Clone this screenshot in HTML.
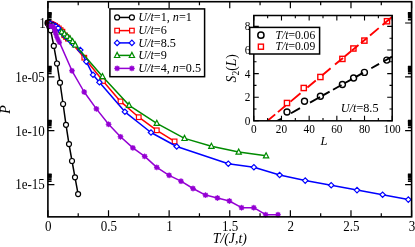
<!DOCTYPE html>
<html><head><meta charset="utf-8"><title>chart</title>
<style>html,body{margin:0;padding:0;background:#fff;}body{width:415px;height:247px;overflow:hidden;font-family:"Liberation Serif",serif;}</style>
</head><body>
<svg width="415" height="247" viewBox="0 0 415 247" style="display:block;will-change:transform">
<rect x="0" y="0" width="415" height="247" fill="#fff"/>
<defs><clipPath id="cm"><rect x="47.9" y="1.7" width="363.70000000000005" height="215.15"/></clipPath></defs>
<g>
<polyline points="47.90,23.00 48.30,23.20 48.70,23.90 49.10,25.20 49.50,27.00 50.70,30.30 53.80,45.90 57.00,63.50 60.00,82.70 63.10,104.00 66.00,124.80 69.00,144.10 72.00,161.00 75.00,177.30 78.10,194.10" fill="none" stroke="#000" stroke-width="1.5" stroke-linejoin="round"/>
<circle cx="47.90" cy="23.00" r="2.5" fill="#fff" stroke="#000" stroke-width="1.9"/>
<circle cx="48.30" cy="23.20" r="2.5" fill="#fff" stroke="#000" stroke-width="1.9"/>
<circle cx="48.70" cy="23.90" r="2.5" fill="#fff" stroke="#000" stroke-width="1.2"/>
<circle cx="49.10" cy="25.20" r="2.5" fill="#fff" stroke="#000" stroke-width="1.2"/>
<circle cx="49.50" cy="27.00" r="2.5" fill="#fff" stroke="#000" stroke-width="1.2"/>
<circle cx="50.70" cy="30.30" r="2.5" fill="#fff" stroke="#000" stroke-width="1.2"/>
<circle cx="53.80" cy="45.90" r="2.5" fill="#fff" stroke="#000" stroke-width="1.2"/>
<circle cx="57.00" cy="63.50" r="2.5" fill="#fff" stroke="#000" stroke-width="1.2"/>
<circle cx="60.00" cy="82.70" r="2.5" fill="#fff" stroke="#000" stroke-width="1.2"/>
<circle cx="63.10" cy="104.00" r="2.5" fill="#fff" stroke="#000" stroke-width="1.2"/>
<circle cx="66.00" cy="124.80" r="2.5" fill="#fff" stroke="#000" stroke-width="1.2"/>
<circle cx="69.00" cy="144.10" r="2.5" fill="#fff" stroke="#000" stroke-width="1.2"/>
<circle cx="72.00" cy="161.00" r="2.5" fill="#fff" stroke="#000" stroke-width="1.2"/>
<circle cx="75.00" cy="177.30" r="2.5" fill="#fff" stroke="#000" stroke-width="1.2"/>
<circle cx="78.10" cy="194.10" r="2.5" fill="#fff" stroke="#000" stroke-width="1.2"/>
<polyline points="49.72,23.46 51.54,23.97 53.35,24.88 55.17,25.79 56.99,27.19 58.81,28.43 60.63,30.13 62.44,31.70 64.26,35.26 66.08,37.01 67.90,38.61 84.30,57.70 103.00,81.00 120.50,101.40 138.75,117.20 156.80,130.30 174.60,141.40" fill="none" stroke="#ff0000" stroke-width="1.5" stroke-linejoin="round"/>
<rect x="47.42" y="21.16" width="4.6" height="4.6" fill="#fff" stroke="#ff0000" stroke-width="1.2"/>
<rect x="49.24" y="21.67" width="4.6" height="4.6" fill="#fff" stroke="#ff0000" stroke-width="1.2"/>
<rect x="51.05" y="22.58" width="4.6" height="4.6" fill="#fff" stroke="#ff0000" stroke-width="1.2"/>
<rect x="52.87" y="23.49" width="4.6" height="4.6" fill="#fff" stroke="#ff0000" stroke-width="1.2"/>
<rect x="54.69" y="24.89" width="4.6" height="4.6" fill="#fff" stroke="#ff0000" stroke-width="1.2"/>
<rect x="56.51" y="26.13" width="4.6" height="4.6" fill="#fff" stroke="#ff0000" stroke-width="1.2"/>
<rect x="58.33" y="27.83" width="4.6" height="4.6" fill="#fff" stroke="#ff0000" stroke-width="1.2"/>
<rect x="60.14" y="29.40" width="4.6" height="4.6" fill="#fff" stroke="#ff0000" stroke-width="1.2"/>
<rect x="61.96" y="32.96" width="4.6" height="4.6" fill="#fff" stroke="#ff0000" stroke-width="1.2"/>
<rect x="63.78" y="34.71" width="4.6" height="4.6" fill="#fff" stroke="#ff0000" stroke-width="1.2"/>
<rect x="65.60" y="36.31" width="4.6" height="4.6" fill="#fff" stroke="#ff0000" stroke-width="1.2"/>
<rect x="82.00" y="55.40" width="4.6" height="4.6" fill="#fff" stroke="#ff0000" stroke-width="1.2"/>
<rect x="100.70" y="78.70" width="4.6" height="4.6" fill="#fff" stroke="#ff0000" stroke-width="1.2"/>
<rect x="118.20" y="99.10" width="4.6" height="4.6" fill="#fff" stroke="#ff0000" stroke-width="1.2"/>
<rect x="136.45" y="114.90" width="4.6" height="4.6" fill="#fff" stroke="#ff0000" stroke-width="1.2"/>
<rect x="154.50" y="128.00" width="4.6" height="4.6" fill="#fff" stroke="#ff0000" stroke-width="1.2"/>
<rect x="172.30" y="139.10" width="4.6" height="4.6" fill="#fff" stroke="#ff0000" stroke-width="1.2"/>
<polyline points="50.48,23.64 53.05,24.73 55.63,26.13 58.20,28.02 60.78,31.58 63.35,33.98 65.93,36.66 68.50,38.91 71.08,41.38 73.66,44.44 80.30,50.00 86.30,61.60 93.00,74.80 99.40,82.30 124.90,111.80 151.00,132.50 176.70,146.50 228.30,163.70 253.90,167.20 279.60,175.00 305.20,180.60 331.20,185.20 357.00,190.10 382.60,194.70 408.30,199.60" fill="none" stroke="#0000ff" stroke-width="1.5" stroke-linejoin="round"/>
<path d="M47.78,23.64 L50.48,20.94 L53.18,23.64 L50.48,26.34 Z" fill="#fff" stroke="#0000ff" stroke-width="1.2"/>
<path d="M50.35,24.73 L53.05,22.03 L55.75,24.73 L53.05,27.43 Z" fill="#fff" stroke="#0000ff" stroke-width="1.2"/>
<path d="M52.93,26.13 L55.63,23.43 L58.33,26.13 L55.63,28.83 Z" fill="#fff" stroke="#0000ff" stroke-width="1.2"/>
<path d="M55.50,28.02 L58.20,25.32 L60.90,28.02 L58.20,30.72 Z" fill="#fff" stroke="#0000ff" stroke-width="1.2"/>
<path d="M58.08,31.58 L60.78,28.88 L63.48,31.58 L60.78,34.28 Z" fill="#fff" stroke="#0000ff" stroke-width="1.2"/>
<path d="M60.65,33.98 L63.35,31.28 L66.05,33.98 L63.35,36.68 Z" fill="#fff" stroke="#0000ff" stroke-width="1.2"/>
<path d="M63.23,36.66 L65.93,33.96 L68.63,36.66 L65.93,39.36 Z" fill="#fff" stroke="#0000ff" stroke-width="1.2"/>
<path d="M65.80,38.91 L68.50,36.21 L71.20,38.91 L68.50,41.61 Z" fill="#fff" stroke="#0000ff" stroke-width="1.2"/>
<path d="M68.38,41.38 L71.08,38.68 L73.78,41.38 L71.08,44.08 Z" fill="#fff" stroke="#0000ff" stroke-width="1.2"/>
<path d="M70.95,44.44 L73.66,41.74 L76.36,44.44 L73.66,47.14 Z" fill="#fff" stroke="#0000ff" stroke-width="1.2"/>
<path d="M77.60,50.00 L80.30,47.30 L83.00,50.00 L80.30,52.70 Z" fill="#fff" stroke="#0000ff" stroke-width="1.2"/>
<path d="M83.60,61.60 L86.30,58.90 L89.00,61.60 L86.30,64.30 Z" fill="#fff" stroke="#0000ff" stroke-width="1.2"/>
<path d="M90.30,74.80 L93.00,72.10 L95.70,74.80 L93.00,77.50 Z" fill="#fff" stroke="#0000ff" stroke-width="1.2"/>
<path d="M96.70,82.30 L99.40,79.60 L102.10,82.30 L99.40,85.00 Z" fill="#fff" stroke="#0000ff" stroke-width="1.2"/>
<path d="M122.20,111.80 L124.90,109.10 L127.60,111.80 L124.90,114.50 Z" fill="#fff" stroke="#0000ff" stroke-width="1.2"/>
<path d="M148.30,132.50 L151.00,129.80 L153.70,132.50 L151.00,135.20 Z" fill="#fff" stroke="#0000ff" stroke-width="1.2"/>
<path d="M174.00,146.50 L176.70,143.80 L179.40,146.50 L176.70,149.20 Z" fill="#fff" stroke="#0000ff" stroke-width="1.2"/>
<path d="M225.60,163.70 L228.30,161.00 L231.00,163.70 L228.30,166.40 Z" fill="#fff" stroke="#0000ff" stroke-width="1.2"/>
<path d="M251.20,167.20 L253.90,164.50 L256.60,167.20 L253.90,169.90 Z" fill="#fff" stroke="#0000ff" stroke-width="1.2"/>
<path d="M276.90,175.00 L279.60,172.30 L282.30,175.00 L279.60,177.70 Z" fill="#fff" stroke="#0000ff" stroke-width="1.2"/>
<path d="M302.50,180.60 L305.20,177.90 L307.90,180.60 L305.20,183.30 Z" fill="#fff" stroke="#0000ff" stroke-width="1.2"/>
<path d="M328.50,185.20 L331.20,182.50 L333.90,185.20 L331.20,187.90 Z" fill="#fff" stroke="#0000ff" stroke-width="1.2"/>
<path d="M354.30,190.10 L357.00,187.40 L359.70,190.10 L357.00,192.80 Z" fill="#fff" stroke="#0000ff" stroke-width="1.2"/>
<path d="M379.90,194.70 L382.60,192.00 L385.30,194.70 L382.60,197.40 Z" fill="#fff" stroke="#0000ff" stroke-width="1.2"/>
<path d="M405.60,199.60 L408.30,196.90 L411.00,199.60 L408.30,202.30 Z" fill="#fff" stroke="#0000ff" stroke-width="1.2"/>
<polyline points="61.70,31.80 64.40,33.80 67.10,36.20 69.90,38.60 72.60,41.50 75.20,44.90 102.50,76.50 129.10,105.30 156.80,123.30 184.50,138.40 211.40,146.20 238.70,152.00 266.10,155.80" fill="none" stroke="#008b00" stroke-width="1.5" stroke-linejoin="round"/>
<path d="M59.05,33.90 L61.70,28.80 L64.35,33.90 Z" fill="#fff" stroke="#008b00" stroke-width="1.2" stroke-linejoin="miter"/>
<path d="M61.75,35.90 L64.40,30.80 L67.05,35.90 Z" fill="#fff" stroke="#008b00" stroke-width="1.2" stroke-linejoin="miter"/>
<path d="M64.45,38.30 L67.10,33.20 L69.75,38.30 Z" fill="#fff" stroke="#008b00" stroke-width="1.2" stroke-linejoin="miter"/>
<path d="M67.25,40.70 L69.90,35.60 L72.55,40.70 Z" fill="#fff" stroke="#008b00" stroke-width="1.2" stroke-linejoin="miter"/>
<path d="M69.95,43.60 L72.60,38.50 L75.25,43.60 Z" fill="#fff" stroke="#008b00" stroke-width="1.2" stroke-linejoin="miter"/>
<path d="M72.55,47.00 L75.20,41.90 L77.85,47.00 Z" fill="#fff" stroke="#008b00" stroke-width="1.2" stroke-linejoin="miter"/>
<path d="M99.85,78.60 L102.50,73.50 L105.15,78.60 Z" fill="#fff" stroke="#008b00" stroke-width="1.2" stroke-linejoin="miter"/>
<path d="M126.45,107.40 L129.10,102.30 L131.75,107.40 Z" fill="#fff" stroke="#008b00" stroke-width="1.2" stroke-linejoin="miter"/>
<path d="M154.15,125.40 L156.80,120.30 L159.45,125.40 Z" fill="#fff" stroke="#008b00" stroke-width="1.2" stroke-linejoin="miter"/>
<path d="M181.85,140.50 L184.50,135.40 L187.15,140.50 Z" fill="#fff" stroke="#008b00" stroke-width="1.2" stroke-linejoin="miter"/>
<path d="M208.75,148.30 L211.40,143.20 L214.05,148.30 Z" fill="#fff" stroke="#008b00" stroke-width="1.2" stroke-linejoin="miter"/>
<path d="M236.05,154.10 L238.70,149.00 L241.35,154.10 Z" fill="#fff" stroke="#008b00" stroke-width="1.2" stroke-linejoin="miter"/>
<path d="M263.45,157.90 L266.10,152.80 L268.75,157.90 Z" fill="#fff" stroke="#008b00" stroke-width="1.2" stroke-linejoin="miter"/>
<polyline points="49.10,25.80 50.30,25.90 51.50,26.10 52.70,26.50 53.80,27.50 54.60,29.60 55.20,32.00 56.00,34.60 57.00,37.40 58.20,40.00 59.50,42.40 72.00,70.80 84.20,92.00 96.40,108.90 108.60,124.30 120.50,136.80 132.90,147.90 144.70,156.40 156.80,167.40 169.10,175.30 181.00,181.20 193.00,188.50 205.50,195.10 217.40,198.00 229.40,201.00 241.60,207.70 253.80,207.70 265.70,214.70 278.00,214.70" fill="none" stroke="#9400d3" stroke-width="1.5" stroke-linejoin="round"/>
<polygon points="51.70,25.80 50.83,26.52 50.94,27.64 49.82,27.53 49.10,28.40 48.38,27.53 47.26,27.64 47.37,26.52 46.50,25.80 47.37,25.08 47.26,23.96 48.38,24.07 49.10,23.20 49.82,24.07 50.94,23.96 50.83,25.08" fill="#9400d3" stroke="#9400d3" stroke-width="0.4"/>
<polygon points="52.90,25.90 52.03,26.62 52.14,27.74 51.02,27.63 50.30,28.50 49.58,27.63 48.46,27.74 48.57,26.62 47.70,25.90 48.57,25.18 48.46,24.06 49.58,24.17 50.30,23.30 51.02,24.17 52.14,24.06 52.03,25.18" fill="#9400d3" stroke="#9400d3" stroke-width="0.4"/>
<polygon points="54.10,26.10 53.23,26.82 53.34,27.94 52.22,27.83 51.50,28.70 50.78,27.83 49.66,27.94 49.77,26.82 48.90,26.10 49.77,25.38 49.66,24.26 50.78,24.37 51.50,23.50 52.22,24.37 53.34,24.26 53.23,25.38" fill="#9400d3" stroke="#9400d3" stroke-width="0.4"/>
<polygon points="55.30,26.50 54.43,27.22 54.54,28.34 53.42,28.23 52.70,29.10 51.98,28.23 50.86,28.34 50.97,27.22 50.10,26.50 50.97,25.78 50.86,24.66 51.98,24.77 52.70,23.90 53.42,24.77 54.54,24.66 54.43,25.78" fill="#9400d3" stroke="#9400d3" stroke-width="0.4"/>
<polygon points="56.40,27.50 55.53,28.22 55.64,29.34 54.52,29.23 53.80,30.10 53.08,29.23 51.96,29.34 52.07,28.22 51.20,27.50 52.07,26.78 51.96,25.66 53.08,25.77 53.80,24.90 54.52,25.77 55.64,25.66 55.53,26.78" fill="#9400d3" stroke="#9400d3" stroke-width="0.4"/>
<polygon points="57.20,29.60 56.33,30.32 56.44,31.44 55.32,31.33 54.60,32.20 53.88,31.33 52.76,31.44 52.87,30.32 52.00,29.60 52.87,28.88 52.76,27.76 53.88,27.87 54.60,27.00 55.32,27.87 56.44,27.76 56.33,28.88" fill="#9400d3" stroke="#9400d3" stroke-width="0.4"/>
<polygon points="57.80,32.00 56.93,32.72 57.04,33.84 55.92,33.73 55.20,34.60 54.48,33.73 53.36,33.84 53.47,32.72 52.60,32.00 53.47,31.28 53.36,30.16 54.48,30.27 55.20,29.40 55.92,30.27 57.04,30.16 56.93,31.28" fill="#9400d3" stroke="#9400d3" stroke-width="0.4"/>
<polygon points="58.60,34.60 57.73,35.32 57.84,36.44 56.72,36.33 56.00,37.20 55.28,36.33 54.16,36.44 54.27,35.32 53.40,34.60 54.27,33.88 54.16,32.76 55.28,32.87 56.00,32.00 56.72,32.87 57.84,32.76 57.73,33.88" fill="#9400d3" stroke="#9400d3" stroke-width="0.4"/>
<polygon points="59.60,37.40 58.73,38.12 58.84,39.24 57.72,39.13 57.00,40.00 56.28,39.13 55.16,39.24 55.27,38.12 54.40,37.40 55.27,36.68 55.16,35.56 56.28,35.67 57.00,34.80 57.72,35.67 58.84,35.56 58.73,36.68" fill="#9400d3" stroke="#9400d3" stroke-width="0.4"/>
<polygon points="60.80,40.00 59.93,40.72 60.04,41.84 58.92,41.73 58.20,42.60 57.48,41.73 56.36,41.84 56.47,40.72 55.60,40.00 56.47,39.28 56.36,38.16 57.48,38.27 58.20,37.40 58.92,38.27 60.04,38.16 59.93,39.28" fill="#9400d3" stroke="#9400d3" stroke-width="0.4"/>
<polygon points="62.10,42.40 61.23,43.12 61.34,44.24 60.22,44.13 59.50,45.00 58.78,44.13 57.66,44.24 57.77,43.12 56.90,42.40 57.77,41.68 57.66,40.56 58.78,40.67 59.50,39.80 60.22,40.67 61.34,40.56 61.23,41.68" fill="#9400d3" stroke="#9400d3" stroke-width="0.4"/>
<polygon points="74.90,70.80 73.93,71.60 74.05,72.85 72.80,72.73 72.00,73.70 71.20,72.73 69.95,72.85 70.07,71.60 69.10,70.80 70.07,70.00 69.95,68.75 71.20,68.87 72.00,67.90 72.80,68.87 74.05,68.75 73.93,70.00" fill="#9400d3" stroke="#9400d3" stroke-width="0.4"/>
<polygon points="87.10,92.00 86.13,92.80 86.25,94.05 85.00,93.93 84.20,94.90 83.40,93.93 82.15,94.05 82.27,92.80 81.30,92.00 82.27,91.20 82.15,89.95 83.40,90.07 84.20,89.10 85.00,90.07 86.25,89.95 86.13,91.20" fill="#9400d3" stroke="#9400d3" stroke-width="0.4"/>
<polygon points="99.30,108.90 98.33,109.70 98.45,110.95 97.20,110.83 96.40,111.80 95.60,110.83 94.35,110.95 94.47,109.70 93.50,108.90 94.47,108.10 94.35,106.85 95.60,106.97 96.40,106.00 97.20,106.97 98.45,106.85 98.33,108.10" fill="#9400d3" stroke="#9400d3" stroke-width="0.4"/>
<polygon points="111.50,124.30 110.53,125.10 110.65,126.35 109.40,126.23 108.60,127.20 107.80,126.23 106.55,126.35 106.67,125.10 105.70,124.30 106.67,123.50 106.55,122.25 107.80,122.37 108.60,121.40 109.40,122.37 110.65,122.25 110.53,123.50" fill="#9400d3" stroke="#9400d3" stroke-width="0.4"/>
<polygon points="123.40,136.80 122.43,137.60 122.55,138.85 121.30,138.73 120.50,139.70 119.70,138.73 118.45,138.85 118.57,137.60 117.60,136.80 118.57,136.00 118.45,134.75 119.70,134.87 120.50,133.90 121.30,134.87 122.55,134.75 122.43,136.00" fill="#9400d3" stroke="#9400d3" stroke-width="0.4"/>
<polygon points="135.80,147.90 134.83,148.70 134.95,149.95 133.70,149.83 132.90,150.80 132.10,149.83 130.85,149.95 130.97,148.70 130.00,147.90 130.97,147.10 130.85,145.85 132.10,145.97 132.90,145.00 133.70,145.97 134.95,145.85 134.83,147.10" fill="#9400d3" stroke="#9400d3" stroke-width="0.4"/>
<polygon points="147.60,156.40 146.63,157.20 146.75,158.45 145.50,158.33 144.70,159.30 143.90,158.33 142.65,158.45 142.77,157.20 141.80,156.40 142.77,155.60 142.65,154.35 143.90,154.47 144.70,153.50 145.50,154.47 146.75,154.35 146.63,155.60" fill="#9400d3" stroke="#9400d3" stroke-width="0.4"/>
<polygon points="159.70,167.40 158.73,168.20 158.85,169.45 157.60,169.33 156.80,170.30 156.00,169.33 154.75,169.45 154.87,168.20 153.90,167.40 154.87,166.60 154.75,165.35 156.00,165.47 156.80,164.50 157.60,165.47 158.85,165.35 158.73,166.60" fill="#9400d3" stroke="#9400d3" stroke-width="0.4"/>
<polygon points="172.00,175.30 171.03,176.10 171.15,177.35 169.90,177.23 169.10,178.20 168.30,177.23 167.05,177.35 167.17,176.10 166.20,175.30 167.17,174.50 167.05,173.25 168.30,173.37 169.10,172.40 169.90,173.37 171.15,173.25 171.03,174.50" fill="#9400d3" stroke="#9400d3" stroke-width="0.4"/>
<polygon points="183.90,181.20 182.93,182.00 183.05,183.25 181.80,183.13 181.00,184.10 180.20,183.13 178.95,183.25 179.07,182.00 178.10,181.20 179.07,180.40 178.95,179.15 180.20,179.27 181.00,178.30 181.80,179.27 183.05,179.15 182.93,180.40" fill="#9400d3" stroke="#9400d3" stroke-width="0.4"/>
<polygon points="195.90,188.50 194.93,189.30 195.05,190.55 193.80,190.43 193.00,191.40 192.20,190.43 190.95,190.55 191.07,189.30 190.10,188.50 191.07,187.70 190.95,186.45 192.20,186.57 193.00,185.60 193.80,186.57 195.05,186.45 194.93,187.70" fill="#9400d3" stroke="#9400d3" stroke-width="0.4"/>
<polygon points="208.40,195.10 207.43,195.90 207.55,197.15 206.30,197.03 205.50,198.00 204.70,197.03 203.45,197.15 203.57,195.90 202.60,195.10 203.57,194.30 203.45,193.05 204.70,193.17 205.50,192.20 206.30,193.17 207.55,193.05 207.43,194.30" fill="#9400d3" stroke="#9400d3" stroke-width="0.4"/>
<polygon points="220.30,198.00 219.33,198.80 219.45,200.05 218.20,199.93 217.40,200.90 216.60,199.93 215.35,200.05 215.47,198.80 214.50,198.00 215.47,197.20 215.35,195.95 216.60,196.07 217.40,195.10 218.20,196.07 219.45,195.95 219.33,197.20" fill="#9400d3" stroke="#9400d3" stroke-width="0.4"/>
<polygon points="232.30,201.00 231.33,201.80 231.45,203.05 230.20,202.93 229.40,203.90 228.60,202.93 227.35,203.05 227.47,201.80 226.50,201.00 227.47,200.20 227.35,198.95 228.60,199.07 229.40,198.10 230.20,199.07 231.45,198.95 231.33,200.20" fill="#9400d3" stroke="#9400d3" stroke-width="0.4"/>
<polygon points="244.50,207.70 243.53,208.50 243.65,209.75 242.40,209.63 241.60,210.60 240.80,209.63 239.55,209.75 239.67,208.50 238.70,207.70 239.67,206.90 239.55,205.65 240.80,205.77 241.60,204.80 242.40,205.77 243.65,205.65 243.53,206.90" fill="#9400d3" stroke="#9400d3" stroke-width="0.4"/>
<polygon points="256.70,207.70 255.73,208.50 255.85,209.75 254.60,209.63 253.80,210.60 253.00,209.63 251.75,209.75 251.87,208.50 250.90,207.70 251.87,206.90 251.75,205.65 253.00,205.77 253.80,204.80 254.60,205.77 255.85,205.65 255.73,206.90" fill="#9400d3" stroke="#9400d3" stroke-width="0.4"/>
<polygon points="268.60,214.70 267.63,215.50 267.75,216.75 266.50,216.63 265.70,217.60 264.90,216.63 263.65,216.75 263.77,215.50 262.80,214.70 263.77,213.90 263.65,212.65 264.90,212.77 265.70,211.80 266.50,212.77 267.75,212.65 267.63,213.90" fill="#9400d3" stroke="#9400d3" stroke-width="0.4"/>
<polygon points="280.90,214.70 279.93,215.50 280.05,216.75 278.80,216.63 278.00,217.60 277.20,216.63 275.95,216.75 276.07,215.50 275.10,214.70 276.07,213.90 275.95,212.65 277.20,212.77 278.00,211.80 278.80,212.77 280.05,212.65 279.93,213.90" fill="#9400d3" stroke="#9400d3" stroke-width="0.4"/>
</g>
<rect x="47.9" y="1.7" width="363.70000000000005" height="215.15" fill="none" stroke="#000" stroke-width="1.6"/>
<path d="M47.90,216.85 v-6.5 M47.90,1.7 v6.5" stroke="#000" stroke-width="1.2" fill="none"/>
<path d="M78.21,216.85 v-3.5 M78.21,1.7 v3.5" stroke="#000" stroke-width="1.2" fill="none"/>
<path d="M108.52,216.85 v-6.5 M108.52,1.7 v6.5" stroke="#000" stroke-width="1.2" fill="none"/>
<path d="M138.83,216.85 v-3.5 M138.83,1.7 v3.5" stroke="#000" stroke-width="1.2" fill="none"/>
<path d="M169.13,216.85 v-6.5 M169.13,1.7 v6.5" stroke="#000" stroke-width="1.2" fill="none"/>
<path d="M199.44,216.85 v-3.5 M199.44,1.7 v3.5" stroke="#000" stroke-width="1.2" fill="none"/>
<path d="M229.75,216.85 v-6.5 M229.75,1.7 v6.5" stroke="#000" stroke-width="1.2" fill="none"/>
<path d="M260.06,216.85 v-3.5 M260.06,1.7 v3.5" stroke="#000" stroke-width="1.2" fill="none"/>
<path d="M290.37,216.85 v-6.5 M290.37,1.7 v6.5" stroke="#000" stroke-width="1.2" fill="none"/>
<path d="M320.68,216.85 v-3.5 M320.68,1.7 v3.5" stroke="#000" stroke-width="1.2" fill="none"/>
<path d="M350.98,216.85 v-6.5 M350.98,1.7 v6.5" stroke="#000" stroke-width="1.2" fill="none"/>
<path d="M381.29,216.85 v-3.5 M381.29,1.7 v3.5" stroke="#000" stroke-width="1.2" fill="none"/>
<path d="M411.60,216.85 v-6.5 M411.60,1.7 v6.5" stroke="#000" stroke-width="1.2" fill="none"/>
<path d="M47.9,23.00 h6.5 M411.6,23.00 h-6.5" stroke="#000" stroke-width="1.2" fill="none"/>
<path d="M47.9,19.76  h3.7 M411.6,19.76 h-3.7" stroke="#000" stroke-width="1.5" fill="none"/>
<path d="M47.9,17.86  h3.7 M411.6,17.86 h-3.7" stroke="#000" stroke-width="1.5" fill="none"/>
<path d="M47.9,16.52  h3.7 M411.6,16.52 h-3.7" stroke="#000" stroke-width="1.5" fill="none"/>
<path d="M47.9,15.47  h3.7 M411.6,15.47 h-3.7" stroke="#000" stroke-width="1.5" fill="none"/>
<path d="M47.9,14.62  h3.7 M411.6,14.62 h-3.7" stroke="#000" stroke-width="1.5" fill="none"/>
<path d="M47.9,13.90  h3.7 M411.6,13.90 h-3.7" stroke="#000" stroke-width="1.5" fill="none"/>
<path d="M47.9,13.27  h3.7 M411.6,13.27 h-3.7" stroke="#000" stroke-width="1.5" fill="none"/>
<path d="M47.9,12.72  h3.7 M411.6,12.72 h-3.7" stroke="#000" stroke-width="1.5" fill="none"/>
<path d="M47.9,76.85 h6.5 M411.6,76.85 h-6.5" stroke="#000" stroke-width="1.2" fill="none"/>
<path d="M47.9,73.61  h3.7 M411.6,73.61 h-3.7" stroke="#000" stroke-width="1.5" fill="none"/>
<path d="M47.9,71.71  h3.7 M411.6,71.71 h-3.7" stroke="#000" stroke-width="1.5" fill="none"/>
<path d="M47.9,70.37  h3.7 M411.6,70.37 h-3.7" stroke="#000" stroke-width="1.5" fill="none"/>
<path d="M47.9,69.32  h3.7 M411.6,69.32 h-3.7" stroke="#000" stroke-width="1.5" fill="none"/>
<path d="M47.9,68.47  h3.7 M411.6,68.47 h-3.7" stroke="#000" stroke-width="1.5" fill="none"/>
<path d="M47.9,67.75  h3.7 M411.6,67.75 h-3.7" stroke="#000" stroke-width="1.5" fill="none"/>
<path d="M47.9,67.12  h3.7 M411.6,67.12 h-3.7" stroke="#000" stroke-width="1.5" fill="none"/>
<path d="M47.9,66.57  h3.7 M411.6,66.57 h-3.7" stroke="#000" stroke-width="1.5" fill="none"/>
<path d="M47.9,130.70 h6.5 M411.6,130.70 h-6.5" stroke="#000" stroke-width="1.2" fill="none"/>
<path d="M47.9,127.46  h3.7 M411.6,127.46 h-3.7" stroke="#000" stroke-width="1.5" fill="none"/>
<path d="M47.9,125.56  h3.7 M411.6,125.56 h-3.7" stroke="#000" stroke-width="1.5" fill="none"/>
<path d="M47.9,124.22  h3.7 M411.6,124.22 h-3.7" stroke="#000" stroke-width="1.5" fill="none"/>
<path d="M47.9,123.17  h3.7 M411.6,123.17 h-3.7" stroke="#000" stroke-width="1.5" fill="none"/>
<path d="M47.9,122.32  h3.7 M411.6,122.32 h-3.7" stroke="#000" stroke-width="1.5" fill="none"/>
<path d="M47.9,121.60  h3.7 M411.6,121.60 h-3.7" stroke="#000" stroke-width="1.5" fill="none"/>
<path d="M47.9,120.97  h3.7 M411.6,120.97 h-3.7" stroke="#000" stroke-width="1.5" fill="none"/>
<path d="M47.9,120.42  h3.7 M411.6,120.42 h-3.7" stroke="#000" stroke-width="1.5" fill="none"/>
<path d="M47.9,184.55 h6.5 M411.6,184.55 h-6.5" stroke="#000" stroke-width="1.2" fill="none"/>
<path d="M47.9,181.31  h3.7 M411.6,181.31 h-3.7" stroke="#000" stroke-width="1.5" fill="none"/>
<path d="M47.9,179.41  h3.7 M411.6,179.41 h-3.7" stroke="#000" stroke-width="1.5" fill="none"/>
<path d="M47.9,178.07  h3.7 M411.6,178.07 h-3.7" stroke="#000" stroke-width="1.5" fill="none"/>
<path d="M47.9,177.02  h3.7 M411.6,177.02 h-3.7" stroke="#000" stroke-width="1.5" fill="none"/>
<path d="M47.9,176.17  h3.7 M411.6,176.17 h-3.7" stroke="#000" stroke-width="1.5" fill="none"/>
<path d="M47.9,175.45  h3.7 M411.6,175.45 h-3.7" stroke="#000" stroke-width="1.5" fill="none"/>
<path d="M47.9,174.82  h3.7 M411.6,174.82 h-3.7" stroke="#000" stroke-width="1.5" fill="none"/>
<path d="M47.9,174.27  h3.7 M411.6,174.27 h-3.7" stroke="#000" stroke-width="1.5" fill="none"/>
<text transform="translate(48.20,230.5) scale(0.98,1.11)" font-family="Liberation Serif, serif" font-size="13.3" text-anchor="middle" fill="#000">0</text>
<text transform="translate(108.82,230.5) scale(0.98,1.11)" font-family="Liberation Serif, serif" font-size="13.3" text-anchor="middle" fill="#000">0.5</text>
<text transform="translate(169.43,230.5) scale(0.98,1.11)" font-family="Liberation Serif, serif" font-size="13.3" text-anchor="middle" fill="#000">1</text>
<text transform="translate(230.05,230.5) scale(0.98,1.11)" font-family="Liberation Serif, serif" font-size="13.3" text-anchor="middle" fill="#000">1.5</text>
<text transform="translate(290.67,230.5) scale(0.98,1.11)" font-family="Liberation Serif, serif" font-size="13.3" text-anchor="middle" fill="#000">2</text>
<text transform="translate(351.28,230.5) scale(0.98,1.11)" font-family="Liberation Serif, serif" font-size="13.3" text-anchor="middle" fill="#000">2.5</text>
<text transform="translate(411.90,230.5) scale(0.98,1.11)" font-family="Liberation Serif, serif" font-size="13.3" text-anchor="middle" fill="#000">3</text>
<text transform="translate(45.7,27.80) scale(0.98,1.11)" font-family="Liberation Serif, serif" font-size="13.3" text-anchor="end" fill="#000">1</text>
<text transform="translate(44.8,81.65) scale(0.98,1.11)" font-family="Liberation Serif, serif" font-size="13.3" text-anchor="end" fill="#000">1e-05</text>
<text transform="translate(44.8,135.50) scale(0.98,1.11)" font-family="Liberation Serif, serif" font-size="13.3" text-anchor="end" fill="#000">1e-10</text>
<text transform="translate(44.8,189.35) scale(0.98,1.11)" font-family="Liberation Serif, serif" font-size="13.3" text-anchor="end" fill="#000">1e-15</text>
<text x="229.8" y="242.7" font-family="Liberation Serif, serif" font-size="13.8" text-anchor="middle" fill="#000" ><tspan font-style="italic">T/(J,t)</tspan></text>
<text transform="translate(10.4,109.5) rotate(-90)" font-family="Liberation Serif, serif" font-size="14" font-style="italic" text-anchor="middle">P</text>
<rect x="109.9" y="8.9" width="94.69999999999999" height="67.8" fill="#fff" stroke="#000" stroke-width="1.5"/>
<path d="M117.1,17.45 H131.9" stroke="#000" stroke-width="1.5"/>
<circle cx="117.10" cy="17.45" r="2.5" fill="#fff" stroke="#000" stroke-width="1.2"/>
<circle cx="131.90" cy="17.45" r="2.5" fill="#fff" stroke="#000" stroke-width="1.2"/>
<text x="138.2" y="21.0" font-family="Liberation Serif, serif" font-size="12.2" text-anchor="start" fill="#000" ><tspan font-style="italic">U/t</tspan>=1, <tspan font-style="italic">n</tspan>=1</text>
<path d="M117.1,30.6 H131.9" stroke="#ff0000" stroke-width="1.5"/>
<rect x="114.80" y="28.30" width="4.6" height="4.6" fill="#fff" stroke="#ff0000" stroke-width="1.2"/>
<rect x="129.60" y="28.30" width="4.6" height="4.6" fill="#fff" stroke="#ff0000" stroke-width="1.2"/>
<text x="138.2" y="34.2" font-family="Liberation Serif, serif" font-size="12.2" text-anchor="start" fill="#000" ><tspan font-style="italic">U/t</tspan>=6</text>
<path d="M117.1,42.9 H131.9" stroke="#0000ff" stroke-width="1.5"/>
<path d="M114.40,42.90 L117.10,40.20 L119.80,42.90 L117.10,45.60 Z" fill="#fff" stroke="#0000ff" stroke-width="1.2"/>
<path d="M129.20,42.90 L131.90,40.20 L134.60,42.90 L131.90,45.60 Z" fill="#fff" stroke="#0000ff" stroke-width="1.2"/>
<text x="138.2" y="46.7" font-family="Liberation Serif, serif" font-size="12.2" text-anchor="start" fill="#000" ><tspan font-style="italic">U/t</tspan>=8.5</text>
<path d="M117.1,55.4 H131.9" stroke="#008b00" stroke-width="1.5"/>
<path d="M114.45,57.50 L117.10,52.40 L119.75,57.50 Z" fill="#fff" stroke="#008b00" stroke-width="1.2" stroke-linejoin="miter"/>
<path d="M129.25,57.50 L131.90,52.40 L134.55,57.50 Z" fill="#fff" stroke="#008b00" stroke-width="1.2" stroke-linejoin="miter"/>
<text x="138.2" y="59.4" font-family="Liberation Serif, serif" font-size="12.2" text-anchor="start" fill="#000" ><tspan font-style="italic">U/t</tspan>=9</text>
<path d="M117.1,68.4 H131.9" stroke="#9400d3" stroke-width="1.5"/>
<polygon points="120.00,68.40 119.03,69.20 119.15,70.45 117.90,70.33 117.10,71.30 116.30,70.33 115.05,70.45 115.17,69.20 114.20,68.40 115.17,67.60 115.05,66.35 116.30,66.47 117.10,65.50 117.90,66.47 119.15,66.35 119.03,67.60" fill="#9400d3" stroke="#9400d3" stroke-width="0.4"/>
<polygon points="134.80,68.40 133.83,69.20 133.95,70.45 132.70,70.33 131.90,71.30 131.10,70.33 129.85,70.45 129.97,69.20 129.00,68.40 129.97,67.60 129.85,66.35 131.10,66.47 131.90,65.50 132.70,66.47 133.95,66.35 133.83,67.60" fill="#9400d3" stroke="#9400d3" stroke-width="0.4"/>
<text x="138.2" y="72.2" font-family="Liberation Serif, serif" font-size="12.2" text-anchor="start" fill="#000" ><tspan font-style="italic">U/t</tspan>=4, <tspan font-style="italic">n</tspan>=0.5</text>
<rect x="253.8" y="15.5" width="138.39999999999998" height="105.3" fill="#fff" stroke="none"/>
<defs><clipPath id="ci"><rect x="253.8" y="15.5" width="138.39999999999998" height="105.3"/></clipPath></defs>
<g clip-path="url(#ci)">
<path d="M266.00,122.05 L275.20,114.39 M277.90,112.14 L285.50,105.81 M290.50,101.64 L300.50,93.31 M307.40,87.56 L315.80,80.56 M322.00,75.40 L330.60,68.23 M335.00,64.57 L343.00,57.90 M345.00,56.24 L351.00,51.24 M352.00,50.41 L358.50,44.99 M361.00,42.91 L367.00,37.91 M370.00,35.41 L378.75,28.12 M382.50,25.00 L392.00,17.08 " stroke="#ff0000" stroke-width="1.9" fill="none"/>
<path d="M276.00,121.64 L281.20,118.73 M291.00,113.24 L300.00,108.20 M310.00,102.61 L320.00,97.01 M322.50,95.61 L329.60,91.63 M333.00,89.73 L341.50,84.97 M344.50,83.29 L352.00,79.09 M355.50,77.13 L363.00,72.94 M371.30,68.29 L379.10,63.92 M383.50,61.46 L392.00,56.70 " stroke="#000" stroke-width="1.9" fill="none"/>
</g>
<circle cx="287.00" cy="112.00" r="3.0" fill="none" stroke="#000" stroke-width="1.4"/>
<circle cx="304.50" cy="101.25" r="3.0" fill="none" stroke="#000" stroke-width="1.4"/>
<circle cx="320.40" cy="96.30" r="3.0" fill="none" stroke="#000" stroke-width="1.4"/>
<circle cx="342.40" cy="84.50" r="3.0" fill="none" stroke="#000" stroke-width="1.4"/>
<circle cx="353.60" cy="78.00" r="3.0" fill="none" stroke="#000" stroke-width="1.4"/>
<circle cx="364.40" cy="72.40" r="3.0" fill="none" stroke="#000" stroke-width="1.4"/>
<circle cx="386.80" cy="60.10" r="3.0" fill="none" stroke="#000" stroke-width="1.4"/>
<rect x="284.40" y="100.40" width="5.2" height="5.2" fill="none" stroke="#ff0000" stroke-width="1.4"/>
<rect x="301.15" y="85.40" width="5.2" height="5.2" fill="none" stroke="#ff0000" stroke-width="1.4"/>
<rect x="317.80" y="74.40" width="5.2" height="5.2" fill="none" stroke="#ff0000" stroke-width="1.4"/>
<rect x="339.80" y="56.30" width="5.2" height="5.2" fill="none" stroke="#ff0000" stroke-width="1.4"/>
<rect x="350.80" y="45.90" width="5.2" height="5.2" fill="none" stroke="#ff0000" stroke-width="1.4"/>
<rect x="361.80" y="38.00" width="5.2" height="5.2" fill="none" stroke="#ff0000" stroke-width="1.4"/>
<rect x="384.40" y="18.65" width="5.2" height="5.2" fill="none" stroke="#ff0000" stroke-width="1.4"/>
<rect x="253.8" y="15.5" width="138.39999999999998" height="105.3" fill="none" stroke="#000" stroke-width="1.5"/>
<path d="M253.80,120.8 v-5.0 M253.80,15.5 v5.0" stroke="#000" stroke-width="1.1" fill="none"/>
<path d="M267.64,120.8 v-2.7 M267.64,15.5 v2.7" stroke="#000" stroke-width="1.1" fill="none"/>
<path d="M281.48,120.8 v-5.0 M281.48,15.5 v5.0" stroke="#000" stroke-width="1.1" fill="none"/>
<path d="M295.32,120.8 v-2.7 M295.32,15.5 v2.7" stroke="#000" stroke-width="1.1" fill="none"/>
<path d="M309.16,120.8 v-5.0 M309.16,15.5 v5.0" stroke="#000" stroke-width="1.1" fill="none"/>
<path d="M323.00,120.8 v-2.7 M323.00,15.5 v2.7" stroke="#000" stroke-width="1.1" fill="none"/>
<path d="M336.84,120.8 v-5.0 M336.84,15.5 v5.0" stroke="#000" stroke-width="1.1" fill="none"/>
<path d="M350.68,120.8 v-2.7 M350.68,15.5 v2.7" stroke="#000" stroke-width="1.1" fill="none"/>
<path d="M364.52,120.8 v-5.0 M364.52,15.5 v5.0" stroke="#000" stroke-width="1.1" fill="none"/>
<path d="M378.36,120.8 v-2.7 M378.36,15.5 v2.7" stroke="#000" stroke-width="1.1" fill="none"/>
<path d="M392.20,120.8 v-5.0 M392.20,15.5 v5.0" stroke="#000" stroke-width="1.1" fill="none"/>
<path d="M253.8,120.80 h5.0 M392.2,120.80 h-5.0" stroke="#000" stroke-width="1.1" fill="none"/>
<path d="M253.8,109.00 h2.7 M392.2,109.00 h-2.7" stroke="#000" stroke-width="1.1" fill="none"/>
<path d="M253.8,97.20 h5.0 M392.2,97.20 h-5.0" stroke="#000" stroke-width="1.1" fill="none"/>
<path d="M253.8,85.40 h2.7 M392.2,85.40 h-2.7" stroke="#000" stroke-width="1.1" fill="none"/>
<path d="M253.8,73.60 h5.0 M392.2,73.60 h-5.0" stroke="#000" stroke-width="1.1" fill="none"/>
<path d="M253.8,61.80 h2.7 M392.2,61.80 h-2.7" stroke="#000" stroke-width="1.1" fill="none"/>
<path d="M253.8,50.00 h5.0 M392.2,50.00 h-5.0" stroke="#000" stroke-width="1.1" fill="none"/>
<path d="M253.8,38.20 h2.7 M392.2,38.20 h-2.7" stroke="#000" stroke-width="1.1" fill="none"/>
<path d="M253.8,26.40 h5.0 M392.2,26.40 h-5.0" stroke="#000" stroke-width="1.1" fill="none"/>
<text transform="translate(253.80,132.7) scale(1.0,1.1)" font-family="Liberation Serif, serif" font-size="11.3" text-anchor="middle" fill="#000">0</text>
<text transform="translate(281.48,132.7) scale(1.0,1.1)" font-family="Liberation Serif, serif" font-size="11.3" text-anchor="middle" fill="#000">20</text>
<text transform="translate(309.16,132.7) scale(1.0,1.1)" font-family="Liberation Serif, serif" font-size="11.3" text-anchor="middle" fill="#000">40</text>
<text transform="translate(336.84,132.7) scale(1.0,1.1)" font-family="Liberation Serif, serif" font-size="11.3" text-anchor="middle" fill="#000">60</text>
<text transform="translate(364.52,132.7) scale(1.0,1.1)" font-family="Liberation Serif, serif" font-size="11.3" text-anchor="middle" fill="#000">80</text>
<text transform="translate(392.20,132.7) scale(1.0,1.1)" font-family="Liberation Serif, serif" font-size="11.3" text-anchor="middle" fill="#000">100</text>
<text transform="translate(250.3,124.80) scale(1.0,1.1)" font-family="Liberation Serif, serif" font-size="11.3" text-anchor="end" fill="#000">0</text>
<text transform="translate(250.3,101.20) scale(1.0,1.1)" font-family="Liberation Serif, serif" font-size="11.3" text-anchor="end" fill="#000">2</text>
<text transform="translate(250.3,77.60) scale(1.0,1.1)" font-family="Liberation Serif, serif" font-size="11.3" text-anchor="end" fill="#000">4</text>
<text transform="translate(250.3,54.00) scale(1.0,1.1)" font-family="Liberation Serif, serif" font-size="11.3" text-anchor="end" fill="#000">6</text>
<text transform="translate(250.3,30.40) scale(1.0,1.1)" font-family="Liberation Serif, serif" font-size="11.3" text-anchor="end" fill="#000">8</text>
<text x="324" y="145" font-family="Liberation Serif, serif" font-size="12.5" text-anchor="middle" fill="#000" ><tspan font-style="italic">L</tspan></text>
<text transform="translate(236,68.3) rotate(-90)" font-family="Liberation Serif, serif" font-size="13.6" text-anchor="middle"><tspan font-style="italic">S</tspan><tspan font-size="9.5" dy="2.8">2</tspan><tspan dy="-2.8">(</tspan><tspan font-style="italic">L</tspan>)</text>
<text x="340.8" y="112" font-family="Liberation Serif, serif" font-size="12.2" text-anchor="start" fill="#000" ><tspan font-style="italic">U/t</tspan>=8.5</text>
<rect x="249.7" y="27.4" width="69.9" height="26.6" fill="#fff" stroke="#000" stroke-width="1.5"/>
<circle cx="260.90" cy="35.20" r="3.1" fill="none" stroke="#000" stroke-width="1.5"/>
<rect x="258.35" y="44.15" width="5.1" height="5.1" fill="none" stroke="#ff0000" stroke-width="1.4"/>
<text transform="translate(275.5,38.6) scale(1.0,1.12)" font-family="Liberation Serif, serif" font-size="11.6" text-anchor="start" fill="#000"><tspan font-style="italic">T/t</tspan>=0.06</text>
<text transform="translate(275.5,49.8) scale(1.0,1.12)" font-family="Liberation Serif, serif" font-size="11.6" text-anchor="start" fill="#000"><tspan font-style="italic">T/t</tspan>=0.09</text>
</svg>
</body></html>
